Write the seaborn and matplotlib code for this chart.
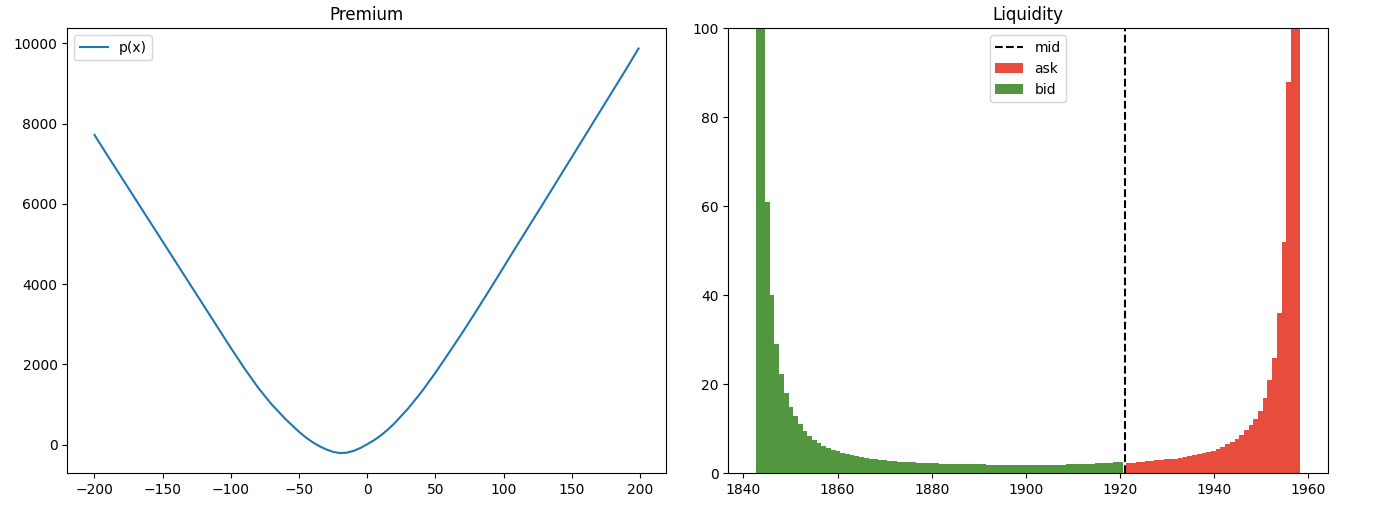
import matplotlib.pyplot as plt
import numpy as np
import seaborn as sns

# premium curve p(x)
premium_x = [-200, -190, -180, -170, -160, -150, -140, -130, -120, -110,
             -100, -90, -80, -70, -60, -50, -45, -40, -35, -30, -25, -20,
             -15, -10, -5, 0, 5, 10, 15, 20, 30, 40, 50, 60, 70, 80, 90, 100,
             110, 120, 130, 140, 150, 160, 170, 180, 190, 199]
premium_p = [7717, 7180, 6650, 6120, 5590, 5060, 4530, 4000, 3470, 2940,
             2410, 1900, 1420, 1000, 640, 320, 180, 60, -40, -120, -180, -210,
             -200, -155, -85, 10, 110, 230, 370, 530, 900, 1320, 1790, 2290,
             2800, 3330, 3870, 4420, 4970, 5515, 6060, 6610, 7160, 7710, 8260,
             8810, 9360, 9870]

# liquidity per price level (bins of width 1)
bid_start = 1842.6
bid_liq = [250, 130, 61, 40, 29, 22.4, 18, 15, 12.8, 11, 9.6, 8.4, 7.5, 6.8,
           6.2, 5.7, 5.3, 4.9, 4.6, 4.3, 4.05, 3.85, 3.6, 3.4, 3.25, 3.1, 3.0,
           2.9, 2.8, 2.7, 2.6, 2.55, 2.5, 2.45, 2.4, 2.35, 2.3, 2.3, 2.25, 2.2,
           2.2, 2.15, 2.1, 2.1, 2.05, 2.05, 2.0, 2.0, 2.0, 1.95, 1.95, 1.95,
           1.95, 1.95, 1.95, 1.95, 1.95, 1.95, 1.95, 1.95, 1.95, 1.95, 1.95,
           1.95, 1.95, 1.95, 2.0, 2.0, 2.05, 2.1, 2.15, 2.2, 2.25, 2.3, 2.35,
           2.4, 2.45, 2.5]
ask_start = 1921.3
ask_liq = [2.3, 2.4, 2.5, 2.6, 2.7, 2.8, 2.9, 3.0, 3.1, 3.2, 3.3, 3.45, 3.6,
           3.8, 4.0, 4.25, 4.5, 4.8, 5.1, 5.5, 6.0, 6.5, 7.0, 7.8, 8.6, 9.7,
           10.8, 12.2, 14, 17, 21, 26, 36, 52, 88, 130, 250]
mid_price = 1921.0

BID_COLOR = "#52973f"
ASK_COLOR = "#e74c3c"


def price_grid(start, n):
    edges = start + np.arange(n + 1)
    return (edges[:-1] + 0.5).tolist(), edges.tolist()


def main(output="out.png"):
    fig = plt.figure(figsize=(13.76, 5.12), dpi=100)
    ax1 = fig.add_axes([0.0489, 0.0756, 0.4349, 0.8691])
    ax2 = fig.add_axes([0.5293, 0.0756, 0.4356, 0.8691])

    sns.lineplot(x=premium_x, y=premium_p, ax=ax1, label="p(x)", color="C0")
    ax1.set_title("Premium")
    ax1.legend(loc="upper left")

    ax2.axvline(mid_price, color="black", linestyle="--", label="mid")
    ask_x, ask_edges = price_grid(ask_start, len(ask_liq))
    bid_x, bid_edges = price_grid(bid_start, len(bid_liq))
    sns.histplot(x=ask_x, weights=ask_liq, bins=ask_edges, ax=ax2,
                 color=ASK_COLOR, alpha=1, linewidth=0, label="ask")
    sns.histplot(x=bid_x, weights=bid_liq, bins=bid_edges, ax=ax2,
                 color=BID_COLOR, alpha=1, linewidth=0, label="bid")
    ax2.set_ylim(0, 100)
    ax2.set_ylabel("")
    ax2.set_title("Liquidity")
    ax2.legend(loc="upper center")

    fig.savefig(output, dpi=100)


if __name__ == "__main__":
    main()
